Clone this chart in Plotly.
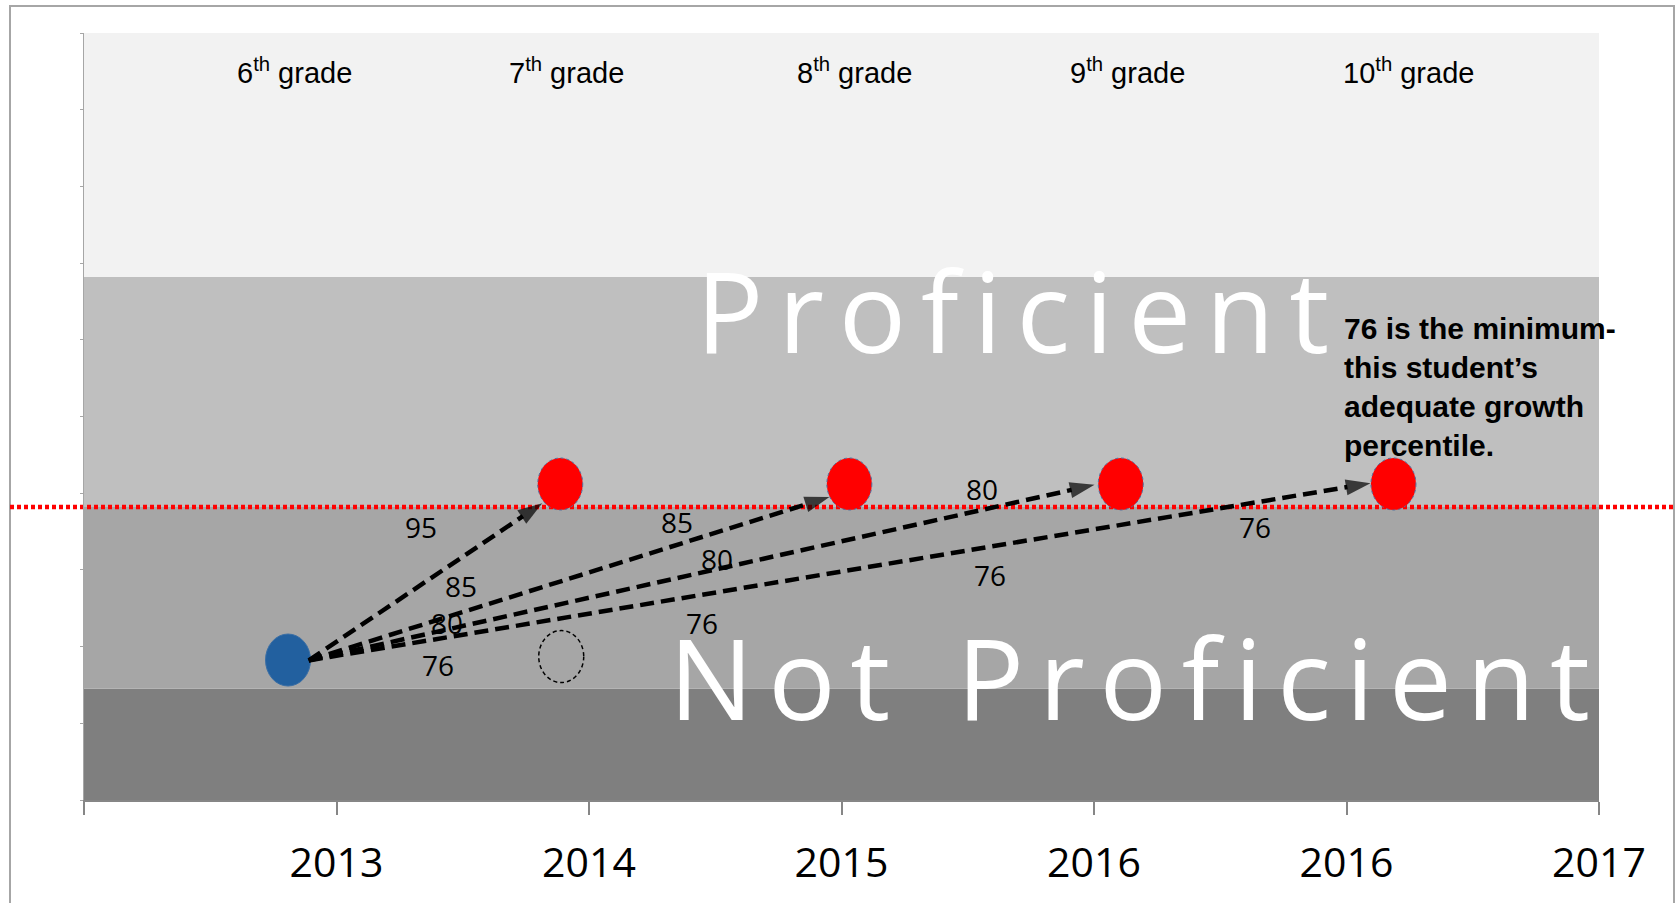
import plotly.graph_objects as go

# ---------------- data ----------------
x_ticks = [0, 1, 2, 3, 4, 5, 6]
x_tick_labels = ["", "2013", "2014", "2015", "2016", "2016", "2017"]
y_min, y_max = 0, 100
y_ticks = [0, 10, 20, 30, 40, 50, 60, 70, 80, 90, 100]

band_edges = [0, 14.5, 38.2, 68.2, 100]
band_colors = ["#7F7F7F", "#A6A6A6", "#BFBFBF", "#F2F2F2"]

proficiency_cut = 38.2

grade_labels = ["6<sup>th</sup> grade", "7<sup>th</sup> grade", "8<sup>th</sup> grade",
                "9<sup>th</sup> grade", "10<sup>th</sup> grade"]
grade_x = [0.832, 1.912, 3.053, 4.133, 5.245]
grade_y = 95.1

current_x = [0.808]
current_y = [18.25]
target_x = [1.886, 3.031, 4.106, 5.186]
target_y = [41.2, 41.2, 41.2, 41.2]
empty_x = [1.890]
empty_y = [18.7]

arrow_start_x = 0.89
arrow_start_y = 18.2
arrow_tip_x = [1.815, 2.952, 4.002, 5.095]
arrow_tip_y = [38.7, 39.5, 41.1, 41.3]

pct_labels = ["95", "85", "80", "76", "85", "80", "76", "80", "76", "76"]
pct_x = [1.335, 1.494, 1.438, 1.403, 2.349, 2.508, 2.448, 3.558, 3.588, 4.639]
pct_y = [35.6, 27.9, 23.1, 17.6, 36.2, 31.4, 23.1, 40.5, 29.3, 35.6]

zone_labels = ["Proficient", "Not Proficient"]
zone_x = [3.677, 4.140]
zone_y = [63.9, 16.1]

note_text = "76 is the minimum-<br>this student\u2019s<br>adequate growth<br>percentile."
note_x = 4.984
note_y = 53.8

# ---------------- figure ----------------
W, H = 1679, 903
ML, MR, MT, MB = 84, 80, 33, 103
x_range = [0, 6]


def ypaper(v):
    return (v - y_min) / (y_max - y_min)


LETTER_GAP = "<span style='font-size:57px'>\u00a0</span>"
WORD_GAP = "<span style='font-size:64px'>\u00a0\u00a0\u00a0\u00a0</span>"


def spaced(label):
    words = label.split(" ")
    return WORD_GAP.join(LETTER_GAP.join(list(w)) for w in words)


fig = go.Figure()
shapes = []

# background bands
for i, c in enumerate(band_colors):
    shapes.append(dict(type="rect", xref="paper", yref="paper", x0=0, x1=1,
                       y0=ypaper(band_edges[i]), y1=ypaper(band_edges[i + 1]),
                       fillcolor=c, line=dict(width=0), layer="below"))

# outer frame
pw = W - ML - MR
ph = H - MT - MB
shapes.append(dict(type="rect", xref="paper", yref="paper",
                   x0=(10 - ML) / pw, x1=(1674 - ML) / pw,
                   y0=(H - MB - 910) / ph, y1=(H - MB - 6) / ph,
                   line=dict(color="#A6A6A6", width=2), fillcolor="rgba(0,0,0,0)", layer="below"))

# red proficiency line
shapes.append(dict(type="line", xref="paper", yref="paper",
                   x0=(10 - ML) / pw, x1=(1674 - ML) / pw,
                   y0=ypaper(proficiency_cut), y1=ypaper(proficiency_cut),
                   line=dict(color="#FF0000", width=4.5, dash="4px,3px"), layer="below"))


def ellipse(x, y, fill, line):
    return dict(type="circle", xref="x", yref="y", xsizemode="pixel", ysizemode="pixel",
                xanchor=x, yanchor=y, x0=-22.5, x1=22.5, y0=-26, y1=26,
                fillcolor=fill, line=line, layer="below")


for x, y in zip(current_x, current_y):
    shapes.append(ellipse(x, y, "#22609F", dict(color="#3A6EA5", width=1)))
for x, y in zip(target_x, target_y):
    shapes.append(ellipse(x, y, "#FF0000", dict(color="#4F6FA0", width=1, dash="dot")))
for x, y in zip(empty_x, empty_y):
    shapes.append(ellipse(x, y, "rgba(0,0,0,0)", dict(color="#000000", width=1.5, dash="4px,3px")))

# dashed growth arrows
for tx, ty in zip(arrow_tip_x, arrow_tip_y):
    fig.add_trace(go.Scatter(
        x=[arrow_start_x, tx], y=[arrow_start_y, ty], mode="lines+markers",
        line=dict(color="#000000", width=4.5, dash="14px,7px"),
        marker=dict(symbol=["circle", "arrow"], size=[0, 26], angleref="previous",
                    color="#000000", line=dict(width=0)),
        showlegend=False, hoverinfo="skip", cliponaxis=False))

annotations = []
for t, x in zip(grade_labels, grade_x):
    annotations.append(dict(x=x, y=grade_y, xref="x", yref="y", text=t, showarrow=False,
                            xanchor="center", yanchor="middle",
                            font=dict(family="Liberation Sans, Arial", size=29, color="#000000")))

for t, x, y in zip(pct_labels, pct_x, pct_y):
    annotations.append(dict(x=x, y=y, xref="x", yref="y", text=t, showarrow=False,
                            xanchor="center", yanchor="middle",
                            font=dict(family="Open Sans", size=28, color="#000000")))

for t, x, y in zip(zone_labels, zone_x, zone_y):
    annotations.append(dict(x=x, y=y, xref="x", yref="y", text=spaced(t),
                            showarrow=False, xanchor="center", yanchor="middle",
                            font=dict(family="Open Sans", size=112, color="#FFFFFF")))

annotations.append(dict(x=note_x, y=note_y, xref="x", yref="y", text="<b>" + note_text + "</b>",
                        showarrow=False, xanchor="left", yanchor="middle", align="left",
                        font=dict(family="Liberation Sans, Arial", size=30, color="#000000")))

fig.update_layout(
    width=W, height=H,
    margin=dict(l=ML, r=MR, t=MT, b=MB, pad=0),
    paper_bgcolor="#FFFFFF", plot_bgcolor="rgba(0,0,0,0)",
    shapes=shapes, annotations=annotations, showlegend=False,
    xaxis=dict(range=x_range, tickvals=x_ticks, ticktext=x_tick_labels, ticks="outside",
               ticklen=13, tickwidth=1.5, tickcolor="#868686", showline=True,
               linecolor="#868686", linewidth=1.5, showgrid=False, zeroline=False,
               ticklabelstandoff=13,
               tickfont=dict(family="Open Sans", size=41, color="#000000"), fixedrange=True),
    yaxis=dict(range=[y_min, y_max], tickvals=y_ticks, showticklabels=False, ticks="outside",
               ticklen=3, tickcolor="#A6A6A6", showline=True, linecolor="#A6A6A6",
               linewidth=1, showgrid=False, zeroline=False, fixedrange=True),
)

fig.write_html("out.html", post_script="document.body.style.margin='0';",
               config={"displayModeBar": False})
